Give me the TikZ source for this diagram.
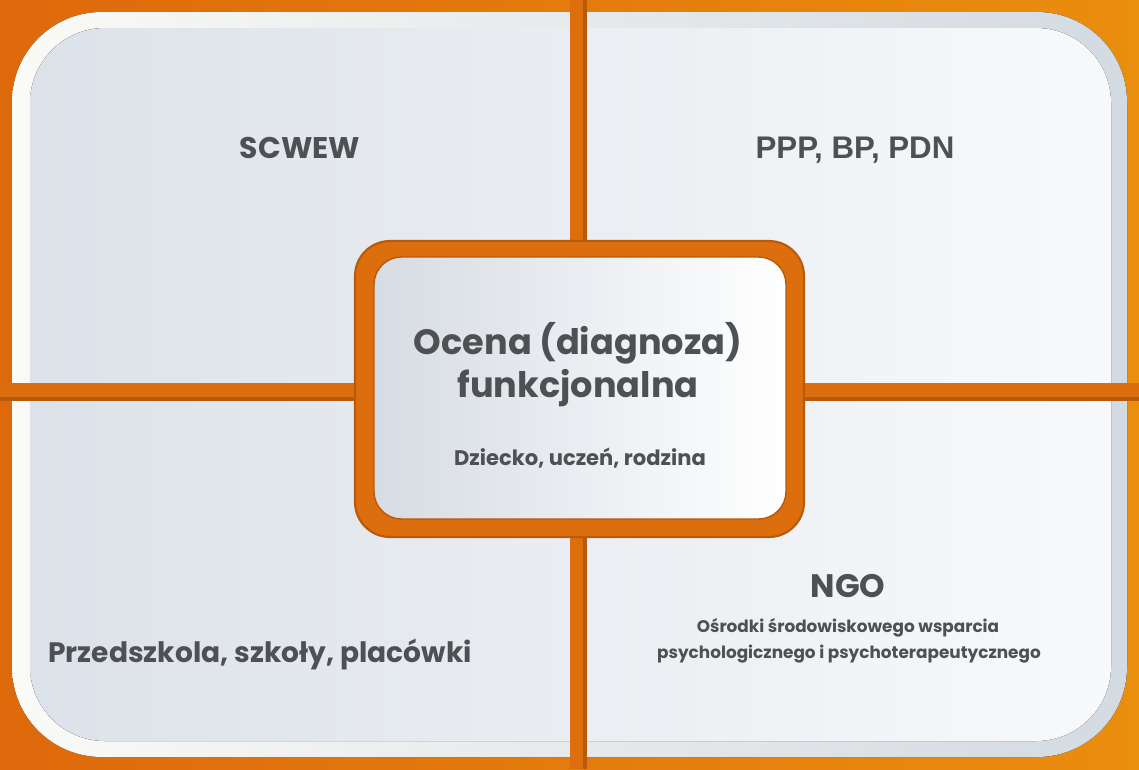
\documentclass[tikz,border=0pt]{standalone}
\usepackage{fontspec}
\setmainfont{Poppins}
\newfontfamily\arialfont{Liberation Sans}
\definecolor{orangeL}{HTML}{DE690B}
\definecolor{orangeR}{HTML}{EA8E0E}
\definecolor{orangeBar}{HTML}{DC6E0E}
\definecolor{orangeD}{HTML}{B85A0C}
\definecolor{rimL}{HTML}{FAFAF6}
\definecolor{rimR}{HTML}{D3DAE1}
\definecolor{panelL}{HTML}{DCE2E9}
\definecolor{panelR}{HTML}{F8F9FA}
\definecolor{boxL}{HTML}{D6DCE3}
\definecolor{txt}{HTML}{4E5054}
\tikzset{
  lbl/.style={text=txt, anchor=base, inner sep=0pt},
  big/.style={lbl, font=\bfseries\fontsize{17}{21}\selectfont},
  small/.style={lbl, font=\bfseries\fontsize{9.6}{12}\selectfont}
}

\begin{document}
\begin{tikzpicture}[x=0.02cm,y=-0.02cm]
            \coordinate (o1) at (0,0);
            \coordinate (o2) at (1139,769);
            \coordinate (r1) at (12,12);
            \coordinate (r2) at (1127,757);
            \coordinate (p1) at (30,28);
            \coordinate (p2) at (1111,741);
            \coordinate (c1) at (355,241);
            \coordinate (c2) at (804,537);
            \coordinate (i1) at (374,257);
            \coordinate (i2) at (786,519);

            \useasboundingbox (o1) rectangle (o2);
            \fill[left color=orangeL, right color=orangeR] (o1) rectangle (o2);
            \fill[left color=rimL, right color=rimR, rounded corners=1.8cm] (r1) rectangle (r2);
            \fill[left color=panelL, right color=panelR, rounded corners=1.5cm] (p1) rectangle (p2);

            \fill[orangeBar] (570,0) rectangle (587,769);
            \fill[orangeBar] (0,383) rectangle (1139,401);
            \fill[orangeD] (583,0) rectangle (587,769);
            \fill[orangeD] (0,397) rectangle (1139,401);

            \fill[orangeBar, rounded corners=0.7cm] (c1) rectangle (c2);
            \draw[orangeD, line width=1.2pt, rounded corners=0.7cm] (c1) rectangle (c2);
            \fill[left color=boxL, right color=white, rounded corners=0.55cm] (i1) rectangle (i2);
            \draw[orangeD, line width=0.8pt, rounded corners=0.55cm] (i1) rectangle (i2);

            \node[big] (scwew) at (300,158) {SCWEW};
            \node[big, font=\arialfont\bfseries\fontsize{17.8}{22}\selectfont] (ppp) at (855,158) {PPP, BP, PDN};
            \node[big, font=\bfseries\fontsize{20}{24}\selectfont] (ocena) at (578,354) {Ocena (diagnoza)};
            \node[big, font=\bfseries\fontsize{20}{24}\selectfont] (funk) at (578,397) {funkcjonalna};
            \node[lbl, font=\bfseries\fontsize{12}{14}\selectfont] (dziecko) at (580,465) {Dziecko, uczeń, rodzina};
            \node[big, font=\bfseries\fontsize{16}{20}\selectfont] (przed) at (260,662) {Przedszkola, szkoły, placówki};
            \node[big, font=\bfseries\fontsize{18.5}{22}\selectfont] (ngo) at (848,597) {NGO};
            \node[small] (osrodki) at (848,632) {Ośrodki środowiskowego wsparcia};
            \node[small] (psych) at (849,658) {psychologicznego i psychoterapeutycznego};
        \end{tikzpicture}
\end{document}
